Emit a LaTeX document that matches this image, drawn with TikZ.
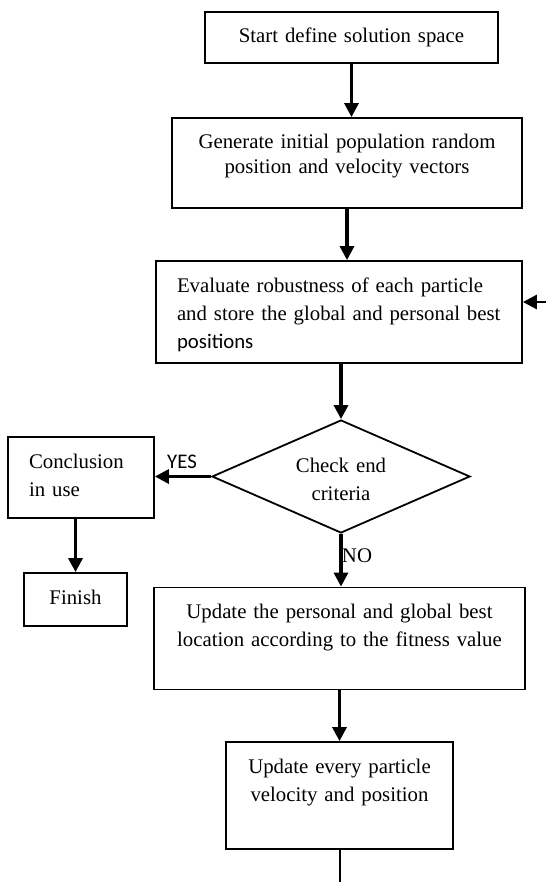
\documentclass[tikz,border=0pt]{standalone}
\usepackage{fontspec}
\setmainfont{Liberation Serif}
\newfontfamily\calibrifont{Carlito}
\usetikzlibrary{arrows.meta,shapes.geometric}

\begin{document}
\begin{tikzpicture}[>={Triangle[length=7pt,width=7pt]}, x=0.5pt, y=0.5pt,
                    every node/.style={font=\fontsize{10.4}{14}\selectfont}]
        % Styles
        \tikzstyle{block} = [rectangle, draw, line width=0.9pt,
                             inner xsep=5pt, inner ysep=0pt,
                             text height=15.5pt, align=center]
        \tikzstyle{decision} = [diamond, draw, line width=0.9pt, inner sep=0pt,
                                minimum width=129pt, minimum height=56.5pt,
                                shape aspect=2.28, align=center, text width=60pt,
                                text height=9.5pt, text depth=14pt]
        \tikzstyle{arrow} = [->, line width=1.6pt]

        \useasboundingbox (0,0) rectangle (546,-882);

        % ==== Nodes (main column) ====
        \node[block, text width=136.5pt, text depth=10pt] (start) at (351.5,-37.5)
            {Start define solution space};
        \node[block, text width=165pt, text depth=29.5pt] (generate) at (347,-163)
            {Generate initial population random\\[-1.5pt]position and velocity vectors};
        \node[block, align=left, inner xsep=10.5pt, text width=162pt, text depth=35.5pt] (evaluate) at (339,-312)
            {Evaluate robustness of each particle\\\mbox{and store the global and personal best}\\{\calibrifont positions}};
        \node[decision] (check) at (341,-476.5) {Check end\\criteria};
        \node[block, text width=175.5pt, text depth=35.5pt] (update) at (339.5,-638.5)
            {Update the personal and global best\\location according to the fitness value};
        \node[block, text width=103.5pt, text depth=38pt] (velocity) at (339.5,-795.5)
            {Update every particle\\velocity and position};

        % ==== Nodes (exit branch) ====
        \node[block, align=left, inner xsep=10.5pt, text width=52pt, text depth=25pt] (conclusion) at (81,-477.5)
            {Conclusion\\in use};
        \node[block, text width=41.5pt, text depth=11pt] (finish) at (75.5,-599.5) {Finish};

        % labels on the decision
        \node[inner sep=0pt] (yes) at (182,-462) {\calibrifont YES};
        \node[inner sep=0pt] (no) at (357,-556) {NO};

        % loop ends (cut at the page edge)
        \coordinate (loopin) at (546,-302);
        \coordinate (loopout) at (339.5,-882);

        % ==== Arrows ====
        \draw[arrow] (start.south) -- (start.south |- generate.north);
        \draw[arrow] (generate.south) -- (generate.south |- evaluate.north);
        \draw[arrow] (check.north |- evaluate.south) -- (check.north);

        % YES branch to the left
        \draw[arrow] (check.west) -- (check.west -| conclusion.east);
        \draw[arrow] (finish.north |- conclusion.south) -- (finish.north);

        % NO branch down
        \draw[arrow] (check.south) -- (check.south |- update.north);
        \draw[arrow] (update.south) -- (velocity.north);

        % loop back
        \draw[line width=1pt] (velocity.south) -- (loopout);
        \draw[arrow, line width=1.4pt] (loopin) -- (loopin -| evaluate.east);
    \end{tikzpicture}
\end{document}
